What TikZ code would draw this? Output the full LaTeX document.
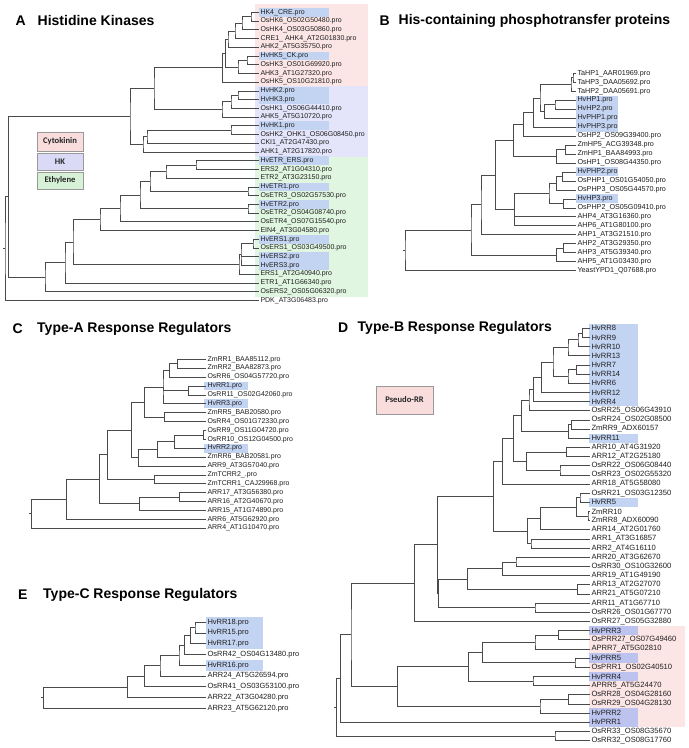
\documentclass[tikz,border=0pt]{standalone}
\usepackage{fontspec}
\setmainfont{Liberation Sans}
\newfontfamily\legfont{Carlito}
\usetikzlibrary{calc}
\definecolor{brc}{HTML}{4A4A4A}
\definecolor{hlb}{HTML}{C3D4F3}
\definecolor{hlp}{HTML}{BCC3EE}
\definecolor{bgpink}{HTML}{FCE5E5}
\definecolor{bglav}{HTML}{E4E4FA}
\definecolor{bggreen}{HTML}{E0F6E0}
\definecolor{lgpink}{HTML}{F9DCDC}
\definecolor{lglav}{HTML}{DADAF7}
\definecolor{lggreen}{HTML}{D7F1D7}
\tikzset{
  branch/.style={draw=brc, line width=0.7pt},
  labbase/.style={anchor=west, inner xsep=1.3pt, inner ysep=0pt, text=black!88},
  labA/.style={labbase, font=\fontsize{7}{8}\selectfont},
  labB/.style={labbase, font=\fontsize{7.2}{8}\selectfont},
  labC/.style={labbase, font=\fontsize{7}{8}\selectfont},
  labD/.style={labbase, font=\fontsize{7.6}{8}\selectfont},
  labE/.style={labbase, font=\fontsize{7.5}{8}\selectfont},
  ttl/.style={anchor=west, inner sep=0pt, font=\bfseries\fontsize{14}{16}\selectfont},
  legbox/.style={draw=black!40, line width=0.6pt, inner sep=0pt, text=black!85,
    font=\legfont\bfseries\fontsize{8.6}{10}\selectfont},
}
\newcommand\phyj[4]{%
  \coordinate (tmpq) at ($(#3)!0.5!(#4)$);
  \coordinate (#1) at (#2,0 |- tmpq);
  \draw[branch] (#3) -| (#1) |- (#4);}
\newcommand\phyjt[5]{%
  \coordinate (tmpq) at ($(#3)!0.5!(#5)$);
  \coordinate (#1) at (#2,0 |- tmpq);
  \draw[branch] (#3) -| (#1) |- (#5);
  \draw[branch] (#1) |- (#4);}
\begin{document}
\begin{tikzpicture}[x=1pt,y=-1pt]
\useasboundingbox (0,0) rectangle (689,748);
\fill[white] (0,0) rectangle (689,748);
% ---------------- titles
\node[ttl] (tA) at (15.5,20.7) {A};
\node[ttl] (tAt) at (37.5,20.7) {Histidine Kinases};
\node[ttl] (tB) at (379.5,20.7) {B};
\node[ttl] (tBt) at (398.5,20.7) {His-containing phosphotransfer proteins};
\node[ttl] (tC) at (12.5,329) {C};
\node[ttl] (tCt) at (37,329) {Type-A Response Regulators};
\node[ttl] (tD) at (338,328) {D};
\node[ttl] (tDt) at (357.5,328) {Type-B Response Regulators};
\node[ttl] (tE) at (18,595) {E};
\node[ttl] (tEt) at (43,595) {Type-C Response Regulators};
% ---------------- backgrounds
\fill[bgpink] (255,3.5) rectangle (368,86);
\fill[bglav] (255,86) rectangle (368,156.5);
\fill[bggreen] (255,156.5) rectangle (368,297);
\fill[bgpink] (589,626) rectangle (685,727);
% ---------------- legends
\node[legbox, fill=lgpink, minimum width=46, minimum height=19] (legC) at (60,141.5) {Cytokinin};
\node[legbox, fill=lglav, minimum width=46, minimum height=17] (legH) at (60,161.5) {HK};
\node[legbox, fill=lggreen, minimum width=46, minimum height=17] (legE) at (60,180.5) {Ethylene};
\node[legbox, fill=lgpink, minimum width=57, minimum height=28] (legP) at (404.5,400) {Pseudo-RR};
% ---------------- highlights
\foreach \i in {0,5,9,10,13,17,20,22,26,28,29}
  \fill[hlb] (259,{12.3+8.73*\i-4.37}) rectangle (329,{12.3+8.73*\i+4.37});
\foreach \i in {3,4,5,6,11,14}
  \fill[hlb] (576,{73.3+8.97*\i-4.49}) rectangle (618,{73.3+8.97*\i+4.49});
\foreach \i in {3,5,10}
  \fill[hlb] (204,{359.3+8.89*\i-4.45}) rectangle (248,{359.3+8.89*\i+4.45});
\foreach \i in {0,1,2,3,4,5,6,7,8,12,19}
  \fill[hlb] (589,{328.3+9.16*\i-4.58}) rectangle (637.7,{328.3+9.16*\i+4.58});
\foreach \i in {33,36,38,42,43}
  \fill[hlp] (589,{328.3+9.16*\i-4.58}) rectangle (637.7,{328.3+9.16*\i+4.58});
\foreach \i in {0,1,2,4}
  \fill[hlb] (206,{622.3+10.75*\i-5.37}) rectangle (263,{622.3+10.75*\i+5.37});
% ---------------- leaves A
\foreach \t [count=\i from 0] in {HK4\_CRE.pro, OsHK6\_OS02G50480.pro, OsHK4\_OS03G50860.pro,
  CRE1\_ AHK4\_AT2G01830.pro, AHK2\_AT5G35750.pro, HvHK5\_CK.pro, OsHK3\_OS01G69920.pro,
  AHK3\_AT1G27320.pro, OsHK5\_OS10G21810.pro, HvHK2.pro, HvHK3.pro, OsHK1\_OS06G44410.pro,
  AHK5\_AT5G10720.pro, HvHK1.pro, OsHK2\_OHK1\_OS06G08450.pro, CKI1\_AT2G47430.pro,
  AHK1\_AT2G17820.pro, HvETR\_ERS.pro, ERS2\_AT1G04310.pro, ETR2\_AT3G23150.pro, HvETR1.pro,
  OsETR3\_OS02G57530.pro, HvETR2.pro, OsETR2\_OS04G08740.pro, OsETR4\_OS07G15540.pro,
  EIN4\_AT3G04580.pro, HvERS1.pro, OsERS1\_OS03G49500.pro, HvERS2.pro, HvERS3.pro,
  ERS1\_AT2G40940.pro, ETR1\_AT1G66340.pro, OsERS2\_OS05G06320.pro, PDK\_AT3G06483.pro}
{ \coordinate (A\i) at (259,{12.3+8.73*\i}); \node[labA] (LA\i) at (A\i) {\t}; }
% ---------------- leaves B
\foreach \t [count=\i from 0] in {TaHP1\_AAR01969.pro, TaHP3\_DAA05692.pro, TaHP2\_DAA05691.pro,
  HvHP1.pro, HvHP2.pro, HvPHP1.pro, HvPHP3.pro, OsHP2\_OS09G39400.pro, ZmHP5\_ACG39348.pro,
  ZmHP1\_BAA84993.pro, OsHP1\_OS08G44350.pro, HvPHP2.pro, OsPHP1\_OS01G54050.pro,
  OsPHP3\_OS05G44570.pro, HvHP3.pro, OsPHP2\_OS05G09410.pro, AHP4\_AT3G16360.pro,
  AHP6\_AT1G80100.pro, AHP1\_AT3G21510.pro, AHP2\_AT3G29350.pro, AHP3\_AT5G39340.pro,
  AHP5\_AT1G03430.pro, YeastYPD1\_Q07688.pro}
{ \coordinate (B\i) at (576,{73.3+8.97*\i}); \node[labB] (LB\i) at (B\i) {\t}; }
% ---------------- leaves C
\foreach \t [count=\i from 0] in {ZmRR1\_BAA85112.pro, ZmRR2\_BAA82873.pro, OsRR6\_OS04G57720.pro,
  HvRR1.pro, OsRR11\_OS02G42060.pro, HvRR3.pro, ZmRR5\_BAB20580.pro, OsRR4\_OS01G72330.pro,
  OsRR9\_OS11G04720.pro, OsRR10\_OS12G04500.pro, HvRR2.pro, ZmRR6\_BAB20581.pro,
  ARR9\_AT3G57040.pro, ZmTCRR2\_.pro, ZmTCRR1\_CAJ29968.pro, ARR17\_AT3G56380.pro,
  ARR16\_AT2G40670.pro, ARR15\_AT1G74890.pro, ARR6\_AT5G62920.pro, ARR4\_AT1G10470.pro}
{ \coordinate (C\i) at (206,{359.3+8.89*\i}); \node[labC] (LC\i) at (C\i) {\t}; }
% ---------------- leaves D
\foreach \t [count=\i from 0] in {HvRR8, HvRR9, HvRR10, HvRR13, HvRR7, HvRR14, HvRR6, HvRR12, HvRR4,
  OsRR25\_OS06G43910, OsRR24\_OS02G08500, ZmRR9\_ADX60157, HvRR11, ARR10\_AT4G31920,
  ARR12\_AT2G25180, OsRR22\_OS06G08440, OsRR23\_OS02G55320, ARR18\_AT5G58080,
  OsRR21\_OS03G12350, HvRR5, ZmRR10, ZmRR8\_ADX60090, ARR14\_AT2G01760, ARR1\_AT3G16857,
  ARR2\_AT4G16110, ARR20\_AT3G62670, OsRR30\_OS10G32600, ARR19\_AT1G49190, ARR13\_AT2G27070,
  ARR21\_AT5G07210, ARR11\_AT1G67710, OsRR26\_OS01G67770, OsRR27\_OS05G32880, HvPRR3,
  OsPRR27\_OS07G49460, APRR7\_AT5G02810, HvPRR5, OsPRR1\_OS02G40510, HvPRR4, APRR5\_AT5G24470,
  OsRR28\_OS04G28160, OsRR29\_OS04G28130, HvPRR2, HvPRR1, OsRR33\_OS08G35670, OsRR32\_OS08G17760}
{ \coordinate (D\i) at (590,{328.3+9.16*\i}); \node[labD] (LD\i) at (D\i) {\t}; }
% ---------------- leaves E
\foreach \t [count=\i from 0] in {HvRR18.pro, HvRR15.pro, HvRR17.pro, OsRR42\_OS04G13480.pro,
  HvRR16.pro, ARR24\_AT5G26594.pro, OsRR41\_OS03G53100.pro, ARR22\_AT3G04280.pro, ARR23\_AT5G62120.pro}
{ \coordinate (E\i) at (206,{622.3+10.75*\i}); \node[labE] (LE\i) at (E\i) {\t}; }
% ---------------- tree A
\phyj{Aa1}{251}{A0}{A1}
\phyj{Aa2}{242}{Aa1}{A2}
\phyj{Aa3}{235}{Aa2}{A3}
\phyj{Aa4}{228}{Aa3}{A4}
\phyj{Ab1}{247}{A5}{A6}
\phyj{Ab2}{238}{Ab1}{A7}
\phyj{Ac1}{225.5}{Aa4}{Ab2}
\phyj{Ac0}{222.5}{Ac1}{A8}
\phyj{Ah0}{238}{A9}{A10}
\phyj{Ah1}{231}{Ah0}{A11}
\phyj{Ah2}{222}{Ah1}{A12}
\phyj{Ak1}{231}{A13}{A14}
\phyj{Ak2}{147}{Ak1}{A15}
\phyj{Ak3}{143}{Ak2}{A16}
\phyj{An154}{154}{Ac0}{Ah2}
\phyj{An130}{130}{An154}{Ak3}
\phyj{Ae1}{196}{A17}{A18}
\phyj{Ae2}{166}{Ae1}{A19}
\phyj{Ae3}{248}{A20}{A21}
\phyj{Ae4}{150}{Ae2}{Ae3}
\phyj{Ae5}{248}{A22}{A23}
\phyj{Ae6}{140}{Ae4}{Ae5}
\phyj{Ae7}{120}{Ae6}{A24}
\phyj{Ae8}{100}{Ae7}{A25}
\phyj{As1}{253}{A26}{A27}
\phyjt{As2}{241}{As1}{A28}{A29}
\phyj{As3}{239}{As2}{A30}
\phyj{Ae9}{73}{Ae8}{As3}
\phyj{Ae10}{65}{Ae9}{A31}
\phyj{Ae11}{45}{Ae10}{A32}
\phyj{An8}{8.3}{An130}{Ae11}
\phyj{Ar}{5}{An8}{A33}
\draw[branch] (Ar) -- ++(-2.5,0);
% ---------------- tree B
\phyj{Bt1}{573}{B0}{B1}
\phyj{Bt2}{571}{Bt1}{B2}
\phyj{Bu1}{555}{B3}{B4}
\phyj{Bu2}{544.3}{Bu1}{B5}
\phyj{Bu3}{540}{Bt2}{Bu2}
\phyj{Bu4}{533.3}{Bu3}{B6}
\phyj{Bu5}{523.3}{Bu4}{B7}
\phyj{Bz1}{565.7}{B8}{B9}
\phyj{Bz2}{556.7}{Bz1}{B10}
\phyj{Bu6}{513.3}{Bu5}{Bz2}
\phyj{Bp1}{562.3}{B11}{B12}
\phyj{Bp2}{556.7}{Bp1}{B13}
\phyj{Bp3}{563.3}{B14}{B15}
\phyj{Bp4}{549}{Bp2}{Bp3}
\phyjt{Bp5}{514.3}{Bp4}{B16}{B17}
\phyj{Bu7}{495.7}{Bu6}{Bp5}
\phyj{Bu8}{481}{Bu7}{B18}
\phyj{Bq1}{563.3}{B19}{B20}
\phyj{Bq2}{556.7}{Bq1}{B21}
\phyj{Bu9}{471}{Bu8}{Bq2}
\phyj{Br}{405}{Bu9}{B22}
\draw[branch] (Br) -- ++(-2.5,0);
% ---------------- tree C
\phyj{Cn1}{177.6}{C0}{C1}
\phyj{Cn2}{169.6}{Cn1}{C2}
\phyj{Cn3}{188.7}{C3}{C4}
\phyjt{Cn4}{163}{Cn2}{Cn3}{C5}
\phyj{Cn5}{164.6}{C6}{C7}
\phyj{Cn6}{144.6}{Cn4}{Cn5}
\phyj{Cn7}{203.7}{C8}{C9}
\phyj{Cn8}{174.6}{Cn7}{C10}
\phyj{Cn9}{157.6}{Cn8}{C11}
\phyj{Cn10}{138.6}{Cn9}{C12}
\phyj{Cn11}{131.2}{Cn6}{Cn10}
\phyj{Cn12}{154.6}{C13}{C14}
\phyj{Cn13}{107.8}{Cn11}{Cn12}
\phyj{Cn14}{179.7}{C15}{C16}
\phyj{Cn15}{139.2}{Cn14}{C17}
\phyj{Cn16}{99.5}{Cn13}{Cn15}
\phyj{Cn17}{66.8}{Cn16}{C18}
\phyj{Cr}{31.7}{Cn17}{C19}
\draw[branch] (Cr) -- ++(-2.5,0);
% ---------------- tree D
\phyj{Da1}{582.7}{D0}{D1}
\phyj{Da2}{578}{Da1}{D2}
\phyj{Da3}{568}{Da2}{D3}
\phyj{Da4}{576.7}{D4}{D5}
\phyj{Da5}{568}{Da4}{D6}
\phyj{Da6}{553}{Da3}{Da5}
\phyj{Da7}{541.7}{Da6}{D7}
\phyj{Da8}{533.3}{Da7}{D8}
\phyj{Da9}{529}{Da8}{D9}
\phyj{Db1}{571.7}{D10}{D11}
\phyj{Db2}{568.3}{Db1}{D12}
\phyj{Da10}{521.7}{Da9}{Db2}
\phyj{Dc1}{566.7}{D13}{D14}
\phyj{Dc2}{560}{D15}{D16}
\phyj{Dc3}{526.7}{Dc1}{Dc2}
\phyj{Da11}{513.3}{Da10}{Dc3}
\phyj{Da12}{502.3}{Da11}{D17}
\phyj{Dd1}{580}{D18}{D19}
\phyj{Dd2}{588}{D20}{D21}
\phyj{Dd3}{576.7}{Dd1}{Dd2}
\phyj{Dd4}{540.7}{Dd3}{D22}
\phyj{De1}{531}{D23}{D24}
\phyj{Dd5}{527.7}{Dd4}{De1}
\phyj{Da13}{493.3}{Da12}{Dd5}
\phyj{Df1}{516}{D25}{D26}
\phyj{Df2}{502.7}{Df1}{D27}
\phyj{Df0}{577.3}{D28}{D29}
\phyj{Df3}{467.3}{Df2}{Df0}
\phyj{Dfz}{535}{D30}{D31}
\phyj{Df4}{438.3}{Df3}{Dfz}
\phyj{Da14}{437.3}{Da13}{Df4}
\phyj{Da15}{414.3}{Da14}{D32}
\phyj{Dg0}{558.3}{D33}{D34}
\phyj{Dg1a}{535}{Dg0}{D35}
\phyj{Dg1b}{575}{D36}{D37}
\phyj{Dg1}{482.3}{Dg1a}{Dg1b}
\phyj{Dg2a}{533}{D38}{D39}
\phyj{Dg2}{468.3}{Dg1}{Dg2a}
\phyj{Dg3a}{568.3}{D40}{D41}
\phyj{Dg3b}{540}{Dg3a}{D42}
\phyj{Dg3}{397.7}{Dg2}{Dg3b}
\phyj{Dm}{351}{Da15}{Dg3}
\phyj{Dr1}{340.7}{Dm}{D43}
\phyj{Dh}{555}{D44}{D45}
\phyj{Dr}{336.7}{Dr1}{Dh}
\draw[branch] (Dr) -- ++(-2.5,0);
% ---------------- tree E
\phyj{En1}{195}{E0}{E1}
\phyj{En2}{190.7}{En1}{E2}
\phyj{En3}{184.3}{En2}{E3}
\phyj{En4}{179}{En3}{E4}
\phyj{En5}{160}{En4}{E5}
\phyj{En6}{144.3}{En5}{E6}
\phyj{En7}{127.7}{En6}{E7}
\phyj{Er}{43.3}{En7}{E8}
\draw[branch] (Er) -- ++(-2.5,0);
\end{tikzpicture}
\end{document}
